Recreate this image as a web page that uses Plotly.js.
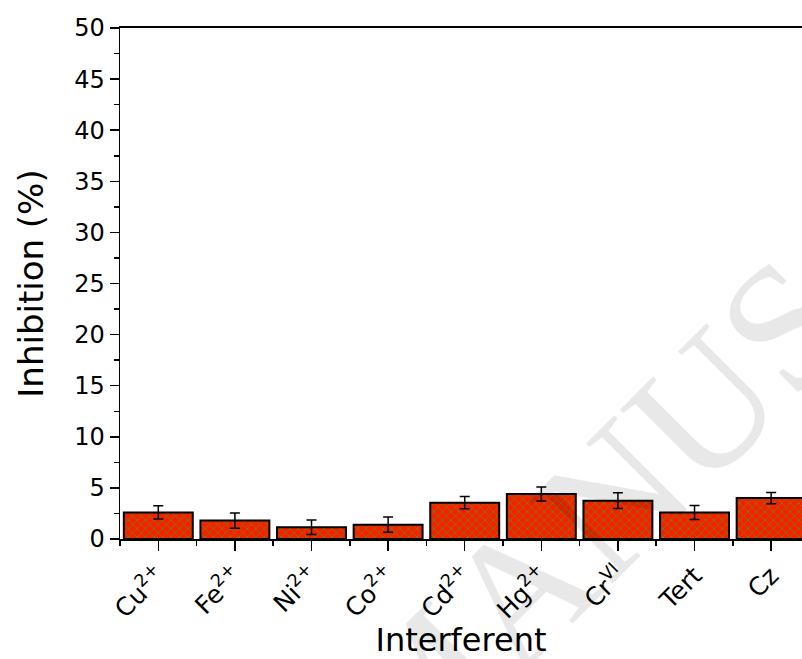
<!DOCTYPE html>
<html>
<head>
<meta charset="utf-8">
<script src="https://cdn.plot.ly/plotly-3.0.1.min.js"></script>
<style>
html,body{margin:0;padding:0;background:#fff;}
#chart{width:802px;height:659px;}
</style>
</head>
<body>
<div id="chart"></div>
<script>
// Data
const categories = ["Cu<sup>2+</sup>", "Fe<sup>2+</sup>", "Ni<sup>2+</sup>", "Co<sup>2+</sup>", "Cd<sup>2+</sup>", "Hg<sup>2+</sup>", "Cr<sup>VI</sup>", "Tert", "Cz"];
const inhibition = [2.6, 1.8, 1.15, 1.4, 3.55, 4.4, 3.75, 2.6, 4.0];
const errors = [0.65, 0.75, 0.7, 0.75, 0.6, 0.68, 0.77, 0.68, 0.55];
const yTicks = [0, 5, 10, 15, 20, 25, 30, 35, 40, 45, 50];

const xIdx = categories.map((c, i) => i);

const FONT = "DejaVu Sans, Arial, sans-serif";

const trace = {
  type: "bar",
  x: xIdx,
  y: inhibition,
  width: 0.9,
  marker: {
    color: "#ff1a00",
    line: {color: "#000000", width: 2},
    pattern: {shape: "x", fgcolor: "#5e8c00", bgcolor: "#ff1a00", size: 6, solidity: 0.28}
  },
  error_y: {type: "data", array: errors, visible: true, color: "#000000", thickness: 1.5, width: 5},
  hoverinfo: "skip",
  showlegend: false
};

const layout = {
  width: 802,
  height: 659,
  margin: {l: 120, r: 0, t: 28, b: 120},
  paper_bgcolor: "#ffffff",
  plot_bgcolor: "#ffffff",
  font: {family: FONT, color: "#000000"},
  showlegend: false,
  xaxis: {
    type: "linear",
    range: [-0.5, 8.403],
    tickmode: "array",
    tickvals: xIdx,
    ticktext: categories,
    tickangle: -45,
    ticks: "outside",
    ticklen: 10,
    tickwidth: 1.5,
    tickcolor: "#000",
    tickfont: {family: FONT, size: 25, color: "#000"},
    minor: {tickmode: "linear", tick0: 0.5, dtick: 1, ticks: "outside", ticklen: 5, tickwidth: 1.5, tickcolor: "#000", showgrid: false},
    showline: true,
    linecolor: "#000",
    linewidth: 2,
    mirror: true,
    showgrid: false,
    zeroline: false,
    title: {text: "Interferent", font: {family: FONT, size: 32, color: "#000"}, standoff: 8}
  },
  yaxis: {
    range: [0, 50],
    tickmode: "array",
    tickvals: yTicks,
    ticktext: yTicks.map(String),
    ticks: "outside",
    ticklen: 9,
    tickwidth: 1.5,
    tickcolor: "#000",
    tickfont: {family: FONT, size: 24, color: "#000"},
    minor: {tickmode: "linear", tick0: 0, dtick: 2.5, ticks: "outside", ticklen: 5, tickwidth: 1.5, tickcolor: "#000", showgrid: false},
    showline: true,
    linecolor: "#000",
    linewidth: 1.5,
    showgrid: false,
    zeroline: false,
    title: {text: "Inhibition (%)", font: {family: FONT, size: 34, color: "#000"}, standoff: 20}
  },
  annotations: [{
    text: "MANUSCRIPT",
    xref: "paper", yref: "paper",
    x: 0.955, y: 0.39,
    xanchor: "center", yanchor: "middle",
    textangle: -45,
    showarrow: false,
    font: {family: "Liberation Serif, serif", size: 180, color: "rgba(0,0,0,0.09)"}
  }]
};

Plotly.newPlot("chart", [trace], layout, {staticPlot: true, displayModeBar: false});
</script>
</body>
</html>
